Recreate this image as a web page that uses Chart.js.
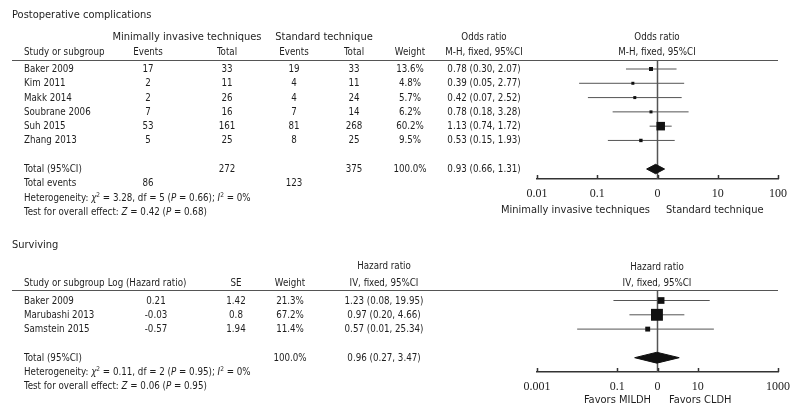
<!DOCTYPE html>
<html><head><meta charset="utf-8">
<script src="https://cdn.jsdelivr.net/npm/chart.js@4.4.0/dist/chart.umd.min.js"></script>
<style>
html,body{margin:0;padding:0;background:#fff;}
#wrap{position:relative;width:800px;height:420px;overflow:hidden;font-family:"DejaVu Sans Condensed","Noto Sans",sans-serif;font-size:9.7px;color:#1e1e1e;}
.t{position:absolute;white-space:nowrap;line-height:14px;transform:translateY(-50%);}
.t.c{transform:translate(-50%,-50%);}
.t.r{transform:translate(-100%,-50%);}
.t.b{font-size:11px;}
.rule{position:absolute;height:0;border-top:1.5px solid #555;}
canvas{position:absolute;left:0;}
sup{font-size:6.5px;vertical-align:0;position:relative;top:-4px;}
</style></head>
<body><div id="wrap">
<canvas id="c1" width="800" height="230" style="top:0"></canvas>
<canvas id="c2" width="800" height="190" style="top:230px"></canvas>
</div>
<script>
// ---------- DATA: Postoperative complications ----------
const studies1 = ["Baker 2009","Kim 2011","Makk 2014","Soubrane 2006","Suh 2015","Zhang 2013"];
const miEvents = [17,2,2,7,53,5];
const miTotal  = [33,11,26,16,161,25];
const stEvents = [19,4,4,7,81,8];
const stTotal  = [33,11,24,14,268,25];
const weight1  = [13.6,4.8,5.7,6.2,60.2,9.5];
const orEst = [0.78,0.39,0.42,0.78,1.13,0.53];
const orLo  = [0.30,0.05,0.07,0.18,0.74,0.15];
const orHi  = [2.07,2.77,2.52,3.28,1.72,1.93];
const orTotal = [0.93,0.66,1.31];
const totals1 = {miTotal:272, stTotal:375, miEvents:86, stEvents:123};
const ticks1 = [0.01,0.1,1,10,100];
const tickLabels1 = ["0.01","0.1","0","10","100"];
const het1 = 'Heterogeneity: <i>χ</i><sup>2</sup> = 3.28, df = 5 (<i>P</i> = 0.66); <i>I</i><sup>2</sup> = 0%';
const test1 = 'Test for overall effect: <i>Z</i> = 0.42 (<i>P</i> = 0.68)';

// ---------- DATA: Surviving ----------
const studies2 = ["Baker 2009","Marubashi 2013","Samstein 2015"];
const logHR = ["0.21","-0.03","-0.57"];
const seVals = ["1.42","0.8","1.94"];
const weight2 = [21.3,67.2,11.4];
const hrEst = [1.23,0.97,0.57];
const hrLo  = [0.08,0.20,0.01];
const hrHi  = [19.95,4.66,25.34];
const hrTotal = [0.96,0.27,3.47];
const ticks2 = [0.001,0.1,1,10,1000];
const tickLabels2 = ["0.001","0.1","0","10","1000"];
const het2 = 'Heterogeneity: <i>χ</i><sup>2</sup> = 0.11, df = 2 (<i>P</i> = 0.95); <i>I</i><sup>2</sup> = 0%';
const test2 = 'Test for overall effect: <i>Z</i> = 0.06 (<i>P</i> = 0.95)';

// ---------- layout helpers ----------
const wrap = document.getElementById('wrap');
function txt(s, x, y, al, html, big){
  const d = document.createElement('div');
  d.className = 't' + (al==='c' ? ' c' : al==='r' ? ' r' : '') + (big ? ' b' : '');
  d.style.left = x + 'px'; d.style.top = y + 'px';
  if (html) d.innerHTML = s; else d.textContent = s;
  wrap.appendChild(d);
}
function rule(x1, x2, y){
  const d = document.createElement('div');
  d.className = 'rule';
  d.style.left = x1 + 'px'; d.style.width = (x2 - x1) + 'px'; d.style.top = (y - 1) + 'px';
  wrap.appendChild(d);
}
const f2 = v => v.toFixed(2);
const ci = (e,l,h) => `${f2(e)} (${f2(l)}, ${f2(h)})`;

// Panel 1 layout
const P1 = {row0:69, rowH:14.29, top:61, bottom:179, canvasTop:0, canvasH:230};
const y1 = r => P1.row0 + P1.rowH * r;
txt('Postoperative complications', 12, 15, 'l', false, true);
txt('Minimally invasive techniques', 187, 37, 'c', false, true);
txt('Standard technique', 324, 37, 'c', false, true);
txt('Odds ratio', 484, 37, 'c');
txt('Odds ratio', 657, 37, 'c');
txt('Study or subgroup', 24, 52);
txt('Events', 148, 52, 'c'); txt('Total', 227, 52, 'c');
txt('Events', 294, 52, 'c'); txt('Total', 354, 52, 'c');
txt('Weight', 410, 52, 'c');
txt('M-H, fixed, 95%CI', 484, 52, 'c');
txt('M-H, fixed, 95%CI', 657, 52, 'c');
rule(12, 778, 61);
studies1.forEach((s,i)=>{
  const y = y1(i);
  txt(s, 24, y);
  txt(String(miEvents[i]), 148, y, 'c');
  txt(String(miTotal[i]), 227, y, 'c');
  txt(String(stEvents[i]), 294, y, 'c');
  txt(String(stTotal[i]), 354, y, 'c');
  txt(weight1[i].toFixed(1)+'%', 410, y, 'c');
  txt(ci(orEst[i], orLo[i], orHi[i]), 484, y, 'c');
});
const tr1 = studies1.length + 1;
txt('Total (95%CI)', 24, y1(tr1));
txt(String(totals1.miTotal), 227, y1(tr1), 'c');
txt(String(totals1.stTotal), 354, y1(tr1), 'c');
txt('100.0%', 410, y1(tr1), 'c');
txt(ci(orTotal[0], orTotal[1], orTotal[2]), 484, y1(tr1), 'c');
txt('Total events', 24, y1(tr1+1));
txt(String(totals1.miEvents), 148, y1(tr1+1), 'c');
txt(String(totals1.stEvents), 294, y1(tr1+1), 'c');
txt(het1, 24, y1(tr1+2), 'l', true);
txt(test1, 24, y1(tr1+3), 'l', true);
txt('Minimally invasive techniques', 650, 210, 'r', false, true);
txt('Standard technique', 666, 210, 'l', false, true);

// Panel 2 layout
const P2 = {row0:300.5, rowH:14.3, top:291, bottom:372, canvasTop:230, canvasH:190};
const y2 = r => P2.row0 + P2.rowH * r;
txt('Surviving', 12, 245, 'l', false, true);
txt('Hazard ratio', 384, 266, 'c');
txt('Hazard ratio', 657, 267, 'c');
txt('Study or subgroup', 24, 283);
txt('Log (Hazard ratio)', 147, 283, 'c');
txt('SE', 236, 283, 'c');
txt('Weight', 290, 283, 'c');
txt('IV, fixed, 95%CI', 384, 283, 'c');
txt('IV, fixed, 95%CI', 657, 283, 'c');
rule(12, 778, 291);
studies2.forEach((s,i)=>{
  const y = y2(i);
  txt(s, 24, y);
  txt(logHR[i], 156, y, 'c');
  txt(seVals[i], 236, y, 'c');
  txt(weight2[i].toFixed(1)+'%', 290, y, 'c');
  txt(ci(hrEst[i], hrLo[i], hrHi[i]), 384, y, 'c');
});
const tr2 = studies2.length + 1;
txt('Total (95%CI)', 24, y2(tr2));
txt('100.0%', 290, y2(tr2), 'c');
txt(ci(hrTotal[0], hrTotal[1], hrTotal[2]), 384, y2(tr2), 'c');
txt(het2, 24, y2(tr2+1), 'l', true);
txt(test2, 24, y2(tr2+2), 'l', true);
txt('Favors MILDH', 651, 400, 'r', false, true);
txt('Favors CLDH', 669, 400, 'l', false, true);

// ---------- forest plots via Chart.js ----------
function forest(id, P, est, lo, hi, weight, total, totalRow, ticks, tickLabels, k, dh){
  const yMin = (P.top - P.row0) / P.rowH;
  const yMax = (P.bottom - P.row0) / P.rowH;
  const datasets = [];
  datasets.push({data:[{x:1,y:yMin},{x:1,y:yMax}], borderColor:'#555', borderWidth:1.5, pointRadius:0, order:5});
  est.forEach((e,i)=>{
    datasets.push({data:[{x:lo[i],y:i},{x:hi[i],y:i}], borderColor:'#555', borderWidth:1, pointRadius:0, order:4});
  });
  datasets.push({data: est.map((e,i)=>({x:e,y:i})), showLine:false, pointStyle:'rect',
    pointRadius: weight.map(w => Math.max(3, k*Math.sqrt(w)) / Math.SQRT2),
    pointBackgroundColor:'#111', pointBorderWidth:0, order:1});
  const [te, tl, th] = total;
  datasets.push({data:[{x:tl,y:totalRow},{x:te,y:totalRow-dh},{x:th,y:totalRow},{x:te,y:totalRow+dh},{x:tl,y:totalRow}],
    borderColor:'#111', borderWidth:1, backgroundColor:'#111', fill:'shape', pointRadius:0, tension:0, order:0});
  new Chart(document.getElementById(id), {
    type:'line',
    data:{datasets},
    options:{
      responsive:false, animation:false, events:[], devicePixelRatio:1,
      layout:{padding:{left:537, right:22, top:P.top - P.canvasTop, bottom:0}},
      plugins:{legend:{display:false}, tooltip:{enabled:false}},
      scales:{
        x:{type:'logarithmic', min:ticks[0], max:ticks[ticks.length-1],
          afterBuildTicks: s => { s.ticks = ticks.map(v => ({value:v})); },
          afterFit: s => { s.height = P.canvasTop + P.canvasH - P.bottom; },
          grid:{display:false, drawTicks:false},
          border:{display:true, color:'#333', width:1.5},
          ticks:{padding:8, color:'#222', autoSkip:false, maxRotation:0,
            font:{family:'"Liberation Serif", "DejaVu Serif", serif', size:12},
            callback:(v,i)=>tickLabels[i]}
        },
        y:{type:'linear', display:false, reverse:true, min:yMin, max:yMax}
      }
    },
    plugins:[{id:'upTicks', afterDraw(chart){
      const s = chart.scales.x, ctx = chart.ctx;
      ctx.save(); ctx.strokeStyle = '#333'; ctx.lineWidth = 1.5;
      ticks.forEach(v => { const px = Math.round(s.getPixelForValue(v)) + 0.5;
        ctx.beginPath(); ctx.moveTo(px, s.top); ctx.lineTo(px, s.top - 4); ctx.stroke(); });
      ctx.restore();
    }}]
  });
}
forest('c1', P1, orEst, orLo, orHi, weight1, orTotal, tr1, ticks1, tickLabels1, 1.1, 0.33);
forest('c2', P2, hrEst, hrLo, hrHi, weight2, hrTotal, tr2, ticks2, tickLabels2, 1.45, 0.38);
</script>
</body></html>
